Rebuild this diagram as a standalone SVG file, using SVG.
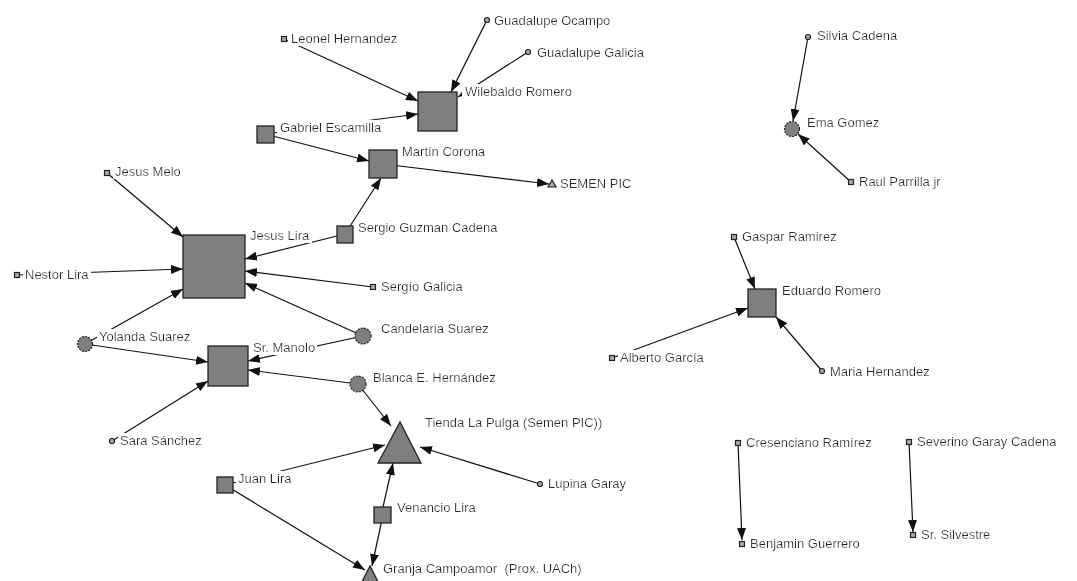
<svg xmlns="http://www.w3.org/2000/svg" width="1077" height="581" viewBox="0 0 1077 581">
<defs>
<marker id="ah" markerUnits="userSpaceOnUse" markerWidth="13" markerHeight="9" refX="12" refY="4.5" orient="auto"><path d="M0,0 L12,4.5 L0,9 z" fill="#111"/></marker>
<filter id="bg" x="-0.02" y="0" width="1.04" height="1"><feFlood flood-color="#fff"/><feMerge><feMergeNode/><feMergeNode in="SourceGraphic"/></feMerge></filter>
</defs>
<style>
.e{stroke:#111;stroke-width:1.2;fill:none;marker-end:url(#ah)}
.n{fill:#7f7f7f;stroke:#222;stroke-width:1.3}
.c{fill:#7f7f7f;stroke:#222;stroke-width:1.2;stroke-dasharray:2 1.2}
.s{fill:#aaa;stroke:#222;stroke-width:1.2}
.t{font-family:"Liberation Sans",Arial,sans-serif;font-size:13px;fill:#262626;filter:url(#bg)}
</style>
<rect width="1077" height="581" fill="#fff"/>
<g id="connectors">
<line class="e" x1="284" y1="39" x2="418" y2="101"/>
<line class="e" x1="487" y1="20" x2="451" y2="92"/>
<line class="e" x1="528" y1="52" x2="458" y2="97"/>
<line class="e" x1="265" y1="134" x2="418" y2="114"/>
<line class="e" x1="265" y1="134" x2="369" y2="161"/>
<line class="e" x1="383" y1="164" x2="549" y2="184"/>
<line class="e" x1="345" y1="234" x2="381" y2="178"/>
<line class="e" x1="345" y1="234" x2="245" y2="259"/>
<line class="e" x1="107" y1="173" x2="183" y2="237"/>
<line class="e" x1="17" y1="275" x2="183" y2="269"/>
<line class="e" x1="85" y1="344" x2="183" y2="289"/>
<line class="e" x1="373" y1="287" x2="245" y2="271"/>
<line class="e" x1="363" y1="336" x2="245" y2="283"/>
<line class="e" x1="363" y1="336" x2="248" y2="361"/>
<line class="e" x1="85" y1="344" x2="208" y2="362"/>
<line class="e" x1="112" y1="441" x2="208" y2="381"/>
<line class="e" x1="358" y1="384" x2="248" y2="370"/>
<line class="e" x1="358" y1="384" x2="391" y2="426"/>
<line class="e" x1="225" y1="485" x2="385" y2="445"/>
<line class="e" x1="540" y1="484" x2="420" y2="447"/>
<line class="e" x1="383" y1="507" x2="393" y2="463"/>
<line class="e" x1="383" y1="515" x2="372" y2="566"/>
<line class="e" x1="225" y1="485" x2="365" y2="570"/>
<line class="e" x1="808" y1="37" x2="793" y2="121"/>
<line class="e" x1="851" y1="182" x2="798" y2="134"/>
<line class="e" x1="734" y1="237" x2="755" y2="289"/>
<line class="e" x1="612" y1="358" x2="748" y2="308"/>
<line class="e" x1="822" y1="371" x2="776" y2="317"/>
<line class="e" x1="738" y1="443" x2="742" y2="540"/>
<line class="e" x1="909" y1="442" x2="913" y2="532"/>
</g>
<g id="n-leonel"><rect class="s" x="281.5" y="36.5" width="5" height="5"/><text class="t" x="291" y="43">Leonel Hernandez</text></g>
<g id="n-ocampo"><circle class="s" cx="487" cy="20" r="2.5"/><text class="t" x="494" y="25">Guadalupe Ocampo</text></g>
<g id="n-galicia"><circle class="s" cx="528" cy="52" r="2.5"/><text class="t" x="537" y="57">Guadalupe Galicia</text></g>
<g id="n-wilebaldo"><rect class="n" x="418" y="92" width="39" height="39"/><text class="t" x="465" y="96">Wilebaldo Romero</text></g>
<g id="n-gabriel"><rect class="n" x="257" y="126" width="17" height="17"/><text class="t" x="280" y="132">Gabriel Escamilla</text></g>
<g id="n-martin"><rect class="n" x="369" y="150" width="28" height="28"/><text class="t" x="402" y="156">Martín Corona</text></g>
<g id="n-semen"><polygon class="s" points="552,180 548,187 556,187"/><text class="t" x="560" y="188">SEMEN PIC</text></g>
<g id="n-jesusmelo"><rect class="s" x="104.5" y="170.5" width="5" height="5"/><text class="t" x="115" y="176">Jesus Melo</text></g>
<g id="n-jesuslira"><rect class="n" x="183" y="235" width="62" height="63"/><text class="t" x="250" y="240">Jesus Lira</text></g>
<g id="n-nestor"><rect class="s" x="14.5" y="272.5" width="5" height="5"/><text class="t" x="25" y="279">Nestor Lira</text></g>
<g id="n-yolanda"><circle class="c" cx="85" cy="344" r="7.5"/><text class="t" x="99" y="341">Yolanda Suarez</text></g>
<g id="n-sergioguzman"><rect class="n" x="337" y="226" width="16" height="17"/><text class="t" x="358" y="232">Sergio Guzman Cadena</text></g>
<g id="n-sergiogalicia"><rect class="s" x="370.5" y="284.5" width="5" height="5"/><text class="t" x="381" y="291">Sergío Galicia</text></g>
<g id="n-candelaria"><circle class="c" cx="363" cy="336" r="8"/><text class="t" x="381" y="333">Candelaria Suarez</text></g>
<g id="n-manolo"><rect class="n" x="208" y="346" width="40" height="40"/><text class="t" x="253" y="352">Sr. Manolo</text></g>
<g id="n-blanca"><circle class="c" cx="358" cy="384" r="8"/><text class="t" x="373" y="382">Blanca E. Hernández</text></g>
<g id="n-sara"><circle class="s" cx="112" cy="441" r="2.5"/><text class="t" x="120" y="445">Sara Sánchez</text></g>
<g id="n-tienda"><polygon class="n" points="400,422 378,463 421,463"/><text class="t" x="425" y="427">Tienda La Pulga (Semen PIC))</text></g>
<g id="n-juanlira"><rect class="n" x="217" y="477" width="16" height="16"/><text class="t" x="238" y="483">Juan Lira</text></g>
<g id="n-lupina"><circle class="s" cx="540" cy="484" r="2.5"/><text class="t" x="548" y="488">Lupina Garay</text></g>
<g id="n-venancio"><rect class="n" x="374" y="507" width="17" height="16"/><text class="t" x="397" y="512">Venancio Lira</text></g>
<g id="n-granja"><polygon class="n" points="370,566 349,607 391,607"/><text class="t" x="383" y="573">Granja Campoamor&#160; (Prox. UACh)</text></g>
<g id="n-silvia"><circle class="s" cx="808" cy="37" r="2.5"/><text class="t" x="817" y="40">Silvia Cadena</text></g>
<g id="n-ema"><circle class="c" cx="792" cy="129" r="7.5"/><text class="t" x="807" y="127">Ema Gomez</text></g>
<g id="n-raul"><rect class="s" x="848.5" y="179.5" width="5" height="5"/><text class="t" x="859" y="186">Raul Parrilla jr</text></g>
<g id="n-gaspar"><rect class="s" x="731.5" y="234.5" width="5" height="5"/><text class="t" x="742" y="241">Gaspar Ramirez</text></g>
<g id="n-eduardo"><rect class="n" x="748" y="289" width="28" height="28"/><text class="t" x="782" y="295">Eduardo Romero</text></g>
<g id="n-alberto"><rect class="s" x="609.5" y="355.5" width="5" height="5"/><text class="t" x="620" y="362">Alberto García</text></g>
<g id="n-maria"><circle class="s" cx="822" cy="371" r="2.5"/><text class="t" x="830" y="376">Maria Hernandez</text></g>
<g id="n-cresenciano"><rect class="s" x="735.5" y="440.5" width="5" height="5"/><text class="t" x="746" y="447">Cresenciano Ramírez</text></g>
<g id="n-benjamin"><rect class="s" x="739.5" y="541.5" width="5" height="5"/><text class="t" x="750" y="548">Benjamin Guerrero</text></g>
<g id="n-severino"><rect class="s" x="906.5" y="439.5" width="5" height="5"/><text class="t" x="917" y="446">Severino Garay Cadena</text></g>
<g id="n-silvestre"><rect class="s" x="910.5" y="532.5" width="5" height="5"/><text class="t" x="921" y="539">Sr. Silvestre</text></g>
</svg>
